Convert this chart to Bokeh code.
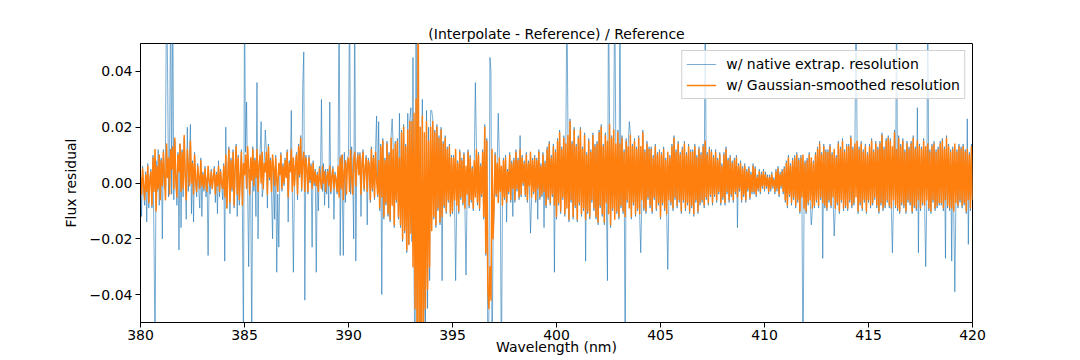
from bokeh.plotting import figure
from bokeh.models import Range1d, FixedTicker, Legend, LegendItem
from bokeh.embed import file_html
from bokeh.resources import INLINE

# ---------------- data ----------------
title_text = "(Interpolate - Reference) / Reference"
x_label = "Wavelength (nm)"
y_label = "Flux residual"
series_names = ["w/ native extrap. resolution", "w/ Gaussian-smoothed resolution"]

xticks = [380, 385, 390, 395, 400, 405, 410, 415, 420]
yticks = [-0.04, -0.02, 0.0, 0.02, 0.04]
ytick_labels = ["\u22120.04", "\u22120.02", "0.00", "0.02", "0.04"]

# residuals, in units of 1e-3,
# sampled every 0.05 nm from 380.00 nm (one row per 0.5 nm)
native_milli = [
    3, -12, 6, -3, -8, 4, -14, 7, -9, 2,            # 380.0
    5, -9, 10, -22, -60, 8, -3, 12, -8, 7,          # 380.5
    9, -20, 12, -2, 10, 70, 42, -5, 13, 70,         # 381.0
    -4, 70, -6, 15, 2, -8, 11, -24, 14, -16,        # 381.5
    12, -5, 16, 2, -13, 20, -3, 9, 21, -11,         # 382.0
    8, -14, 11, 0, -5, 7, -2, -9, 9, -12,           # 382.5
    4, -3, 6, -5, 2, -26, 1, -4, 5, -2,             # 383.0
    3, 6, -7, 4, -11, 8, -5, 5, -1, -6,             # 383.5
    7, -28, 20, -9, 4, 13, -11, 9, -3, 12,          # 384.0
    -9, 6, 14, -12, 10, -8, 3, 12, -10, -60,        # 384.5
    70, 11, 29, -2, -30, 5, -4, -60, 13, -3,        # 385.0
    9, -12, 36, -20, 7, 11, 22, -5, -2, 8,          # 385.5
    19, 12, -9, 14, 1, 9, -4, -20, 6, -13,          # 386.0
    10, -32, -4, -23, 3, 11, -3, 7, -1, 9,          # 386.5
    2, 12, -14, 8, 4, 26, -4, -32, -2, 7,           # 387.0
    11, -6, 14, 2, 17, -3, 35, 47, -42, 10,         # 387.5
    6, -4, 10, 0, 7, -23, 8, -1, 5, -32,            # 388.0
    4, -10, 6, 1, 30, -3, 7, -8, 5, -4,             # 388.5
    5, -9, 29, -4, 3, 6, -13, 4, 2, -4,             # 389.0
    7, 70, -26, 10, -3, -26, 11, -7, 5, 9,          # 389.5
    10, 70, -4, 13, 3, -20, 70, -28, 7, 11,         # 390.0
    4, 11, -12, 8, 12, -3, 6, 10, -15, 9,           # 390.5
    7, -7, 13, -3, 10, -6, 12, 24, -5, 22,          # 391.0
    -10, 14, -40, 16, -13, 9, -8, 15, -12, 11,      # 391.5
    -14, 17, 23, 13, -16, 15, -7, 16, -13, 25,      # 392.0
    -16, 19, -21, 21, -18, 14, -25, 25, -22, 23,    # 392.5
    27, -21, 45, -33, -70, 70, -70, 70, -70, -40,   # 393.0
    -70, 30, -70, -31, -50, 26, -45, 20, -35, 26,   # 393.5
    26, 23, -13, 19, -16, 21, -10, 17, -15, 20,     # 394.0
    -35, 15, -9, 17, -11, 13, -7, 14, -12, 10,      # 394.5
    -11, 10, -7, -35, -9, 8, -11, 12, -6, 9,        # 395.0
    -8, 11, -10, -33, -5, 12, -9, 10, -7, 6,        # 395.5
    -10, 9, 36, 13, -8, 11, -10, 7, -5, 12,         # 396.0
    -13, 21, -26, 16, -70, -46, 45, 40, -70, -21,   # 396.5
    -9, 11, -5, 8, 25, 10, -4, -70, -9, 9,          # 397.0
    -6, 10, -14, 5, -4, 11, -7, 8, -12, 9,          # 397.5
    -7, 12, -3, 9, -6, 17, -5, 10, -1, 8,           # 398.0
    -5, 11, -7, 8, -2, -18, -6, 9, -4, 10,          # 398.5
    -7, 9, -13, 12, -6, 7, -5, 11, -16, 8,          # 399.0
    -9, 13, -6, 15, -8, 10, -5, 14, -32, 12,        # 399.5
    -13, 16, -8, 19, -11, 13, -6, 17, -12, 15,      # 400.0
    70, 18, -14, 23, -7, 15, -13, 20, -9, 14,       # 400.5
    -14, 17, -8, 20, -12, 13, -10, 18, -28, 11,     # 401.0
    -11, 16, -13, 12, -7, 18, -10, 14, -13, 15,     # 401.5
    -15, 19, -9, 21, -12, 14, -15, 18, -8, -35,     # 402.0
    70, 22, -16, 17, -10, 20, 70, 15, -11, 19,      # 402.5
    -13, 70, -9, 17, -11, 12, -70, 16, -7, 14,      # 403.0
    22, 18, -13, 14, -8, 16, -12, 13, -10, 17,      # 403.5
    -12, -25, -7, 19, -10, 12, -11, 15, -6, 13,     # 404.0
    -9, 13, -11, 10, -6, 14, -10, 11, -8, 12,       # 404.5
    -13, 11, -8, 13, -10, 9, -12, -31, -7, 10,      # 405.0
    -8, 14, -10, 17, -6, 12, -9, 15, -7, 11,        # 405.5
    -11, 13, -7, 15, -10, 11, -8, 14, -11, 12,      # 406.0
    -9, 12, -12, 14, -7, 10, -11, 13, -8, 11,       # 406.5
    -7, 14, -9, 70, -6, 11, -8, 13, -5, 12,         # 407.0
    -8, 10, -5, 12, -7, 9, -4, 11, -8, 7,           # 407.5
    -6, 11, -8, 13, -4, 9, -7, 10, -5, 8,           # 408.0
    -7, 9, -4, 10, -16, 7, -3, 8, -7, 6,            # 408.5
    -5, 7, -7, 5, -3, 6, -6, 4, -4, 7,              # 409.0
    -4, 6, -5, 3, -3, 5, -4, 4, -2, 5,              # 409.5
    -3, 4, -2, 3, -4, 3, -3, 4, -2, 2,              # 410.0
    -4, 5, -3, 6, -5, 4, -2, 5, -4, 6,              # 410.5
    -7, 8, -9, 10, -5, 7, -8, 9, -6, 10,            # 411.0
    -9, 11, -7, 9, -11, 10, -6, -70, -10, 8,        # 411.5
    -11, 9, -8, 11, -7, -15, -10, 8, -9, 11,        # 412.0
    -7, 13, -9, 15, -6, 11, -27, 14, -9, 12,        # 412.5
    -10, 12, -7, 14, -9, 11, -6, -19, -10, 10,      # 413.0
    -8, 15, -11, 13, -7, 16, -10, 12, -9, 14,       # 413.5
    -10, 14, -7, 17, -9, 13, -8, 15, 70, 16,        # 414.0
    -11, 13, -8, 15, -10, 12, -7, 14, -11, 11,      # 414.5
    -7, 14, -9, 16, -8, 12, -6, 15, -9, 13,         # 415.0
    -11, 15, -8, 18, -10, 13, -9, 16, -7, 17,       # 415.5
    -9, 16, -10, -25, -7, 19, -9, 70, -10, 17,      # 416.0
    -11, 14, -8, 16, -9, 12, -11, 15, -7, 13,       # 416.5
    -8, 15, -11, 17, -9, 13, -10, 27, -25, 14,      # 417.0
    -10, 13, -8, 16, -9, -30, -7, 70, -10, 12,      # 417.5
    -11, 14, -7, 15, -10, 12, -9, 13, -8, 15,       # 418.0
    -8, 16, -10, 13, -27, 17, -9, 14, -10, 12,      # 418.5
    -28, 13, -11, -39, -8, 12, -9, 14, -7, 13,      # 419.0
    -9, 14, -8, 12, -11, 23, -22, 11, -10, 14,      # 419.5
    -6,                                             # 420.0
]

smoothed_milli = [
    2, -4, 5, -1, -6, 3, -3, 6, -7, 1,              # 380.0
    4, -8, 9, -3, 12, -10, 6, -2, 10, -6,           # 380.5
    8, -1, 11, 3, -6, 14, 2, 9, -4, 12,             # 381.0
    5, 13, -2, 16, 1, -5, 10, 4, 14, -3,            # 381.5
    11, -2, 17, 3, -6, 12, 6, -1, 15, 0,            # 382.0
    7, -4, 10, 1, -3, 6, 2, -2, 8, -1,              # 382.5
    3, -2, 5, 0, -3, 6, 1, -1, 4, -2,               # 383.0
    2, 5, -4, 3, -1, 6, -3, 4, 0, -2,               # 383.5
    6, -5, 10, -9, 3, 12, -7, 8, -2, 11,            # 384.0
    -8, 5, 13, -4, 9, -6, 2, 11, -8, 7,             # 384.5
    3, 10, -2, 13, 5, -4, 9, 1, 12, -1,             # 385.0
    8, 2, 12, -3, 6, 10, 0, 11, -2, 7,              # 385.5
    4, 11, -4, 13, 2, 8, -3, 10, 5, -1,             # 386.0
    9, 1, -3, 7, 3, 10, -2, 6, 0, 8,                # 386.5
    2, 11, -5, 7, 4, 12, -3, 9, -1, 6,              # 387.0
    10, -4, 13, 3, 16, -2, 8, 11, -3, 9,            # 387.5
    5, -3, 9, 1, 6, -2, 7, 0, 4, -1,                # 388.0
    3, -3, 5, 1, -2, 6, 0, 4, -3, 2,                # 388.5
    4, -1, 6, -3, 2, 5, -2, 3, 1, -3,               # 389.0
    6, -5, 9, -2, 10, -6, 4, 8, -4, 7,              # 389.5
    9, -3, 12, 2, -4, 8, 11, -1, 6, 10,             # 390.0
    3, 10, -4, 7, 11, -2, 5, 9, -3, 8,              # 390.5
    6, -6, 12, -2, 9, -5, 11, 1, -4, 8,             # 391.0
    -9, 13, -5, 15, -12, 8, -7, 14, -11, 10,        # 391.5
    -13, 16, -8, 12, -15, 14, -6, 15, -12, 9,       # 392.0
    -15, 18, -20, 20, -17, 13, -24, 19, -22, 22,    # 392.5
    -18, 22, -30, 25, -45, 30, -60, 70, -70, 20,    # 393.0
    -65, 24, -55, 18, -45, 22, -38, 15, -30, 20,    # 393.5
    -17, 22, -12, 18, -15, 20, -9, 16, -14, 19,     # 394.0
    -12, 14, -8, 16, -10, 12, -6, 13, -11, 9,       # 394.5
    -10, 9, -6, 12, -8, 7, -10, 11, -5, 8,          # 395.0
    -7, 10, -9, 6, -4, 11, -8, 9, -6, 5,            # 395.5
    -9, 8, -5, 12, -7, 10, -9, 6, -4, 11,           # 396.0
    -12, 20, -25, 15, -38, -45, -30, -42, 12, -20,  # 396.5
    -8, 10, -4, 7, -7, 9, -3, 6, -8, 8,             # 397.0
    -5, 9, -7, 4, -3, 10, -6, 7, -2, 8,             # 397.5
    -6, 11, -2, 8, -5, 12, -4, 9, 0, 7,             # 398.0
    -4, 10, -6, 7, -1, 11, -5, 8, -3, 9,            # 398.5
    -6, 8, -2, 11, -5, 6, -4, 10, -3, 7,            # 399.0
    -8, 12, -5, 14, -7, 9, -4, 13, -8, 11,          # 399.5
    -12, 15, -7, 18, -10, 12, -5, 16, -11, 14,      # 400.0
    -9, 17, -13, 22, -6, 14, -12, 19, -8, 13,       # 400.5
    -13, 16, -7, 19, -11, 12, -9, 17, -13, 10,      # 401.0
    -10, 15, -12, 11, -6, 17, -9, 13, -12, 14,      # 401.5
    -14, 18, -8, 20, -11, 13, -14, 17, -7, 15,      # 402.0
    -11, 21, -15, 16, -9, 19, -13, 14, -10, 18,     # 402.5
    -12, 14, -8, 16, -10, 11, -12, 15, -6, 13,      # 403.0
    -9, 17, -12, 13, -7, 15, -11, 12, -9, 16,       # 403.5
    -11, 13, -6, 18, -9, 11, -10, 14, -5, 12,       # 404.0
    -8, 12, -10, 9, -5, 13, -9, 10, -7, 11,         # 404.5
    -12, 10, -7, 12, -9, 8, -11, 11, -6, 9,         # 405.0
    -7, 13, -9, 16, -5, 11, -8, 14, -6, 10,         # 405.5
    -10, 12, -6, 14, -9, 10, -7, 13, -10, 11,       # 406.0
    -8, 11, -11, 13, -6, 9, -10, 12, -7, 10,        # 406.5
    -6, 13, -8, 15, -5, 10, -7, 12, -4, 11,         # 407.0
    -7, 9, -4, 11, -6, 8, -3, 10, -7, 6,            # 407.5
    -5, 10, -7, 12, -3, 8, -6, 9, -4, 7,            # 408.0
    -6, 8, -3, 9, -5, 6, -2, 7, -6, 5,              # 408.5
    -4, 6, -6, 4, -2, 5, -5, 3, -3, 6,              # 409.0
    -3, 5, -4, 2, -2, 4, -3, 3, -1, 4,              # 409.5
    -2, 3, -1, 2, -3, 2, -2, 3, -1, 1,              # 410.0
    -3, 4, -2, 5, -4, 3, -1, 4, -3, 5,              # 410.5
    -6, 7, -8, 9, -4, 6, -7, 8, -5, 9,              # 411.0
    -8, 10, -6, 8, -10, 9, -5, 10, -9, 7,           # 411.5
    -10, 8, -7, 10, -6, 9, -9, 7, -8, 10,           # 412.0
    -6, 12, -8, 14, -5, 10, -7, 13, -8, 11,         # 412.5
    -9, 11, -6, 13, -8, 10, -5, 12, -9, 9,          # 413.0
    -7, 14, -10, 12, -6, 15, -9, 11, -8, 13,        # 413.5
    -9, 13, -6, 16, -8, 12, -7, 14, -5, 15,         # 414.0
    -10, 12, -7, 14, -9, 11, -6, 13, -10, 10,       # 414.5
    -6, 13, -8, 15, -7, 11, -5, 14, -8, 12,         # 415.0
    -10, 14, -7, 17, -9, 12, -8, 15, -6, 16,        # 415.5
    -8, 15, -9, 13, -6, 18, -8, 12, -9, 16,         # 416.0
    -10, 13, -7, 15, -8, 11, -10, 14, -6, 12,       # 416.5
    -7, 14, -10, 16, -8, 12, -9, 15, -6, 13,        # 417.0
    -9, 12, -7, 15, -8, 13, -6, 14, -9, 11,         # 417.5
    -10, 13, -6, 14, -9, 11, -8, 12, -7, 14,        # 418.0
    -7, 15, -9, 12, -6, 16, -8, 13, -9, 11,         # 418.5
    -9, 12, -10, 14, -7, 11, -8, 13, -6, 12,        # 419.0
    -8, 13, -7, 11, -10, 12, -6, 10, -9, 13,        # 419.5
    -6,                                             # 420.0
]

wl_start, wl_step = 380.0, 0.05   # sampling of the residual arrays (nm)
wl_native = [round(wl_start + wl_step * i, 2) for i in range(len(native_milli))]
wl_smoothed = [round(wl_start + wl_step * i, 2) for i in range(len(smoothed_milli))]
resid_native = [v / 1000.0 for v in native_milli]
resid_smoothed = [v / 1000.0 for v in smoothed_milli]

# ---------------- figure ----------------
FONT = "DejaVu Sans"

p = figure(width=1080, height=360,
           x_range=Range1d(380, 420), y_range=Range1d(-0.05, 0.05),
           output_backend="svg", toolbar_location=None,
           min_border_left=140, min_border_right=108,
           min_border_top=43, min_border_bottom=38,
           title=title_text)
p.background_fill_color = "white"
p.border_fill_color = "white"
p.grid.visible = False
p.outline_line_color = "black"
p.outline_line_alpha = 1.0
p.outline_line_width = 1

r_native = p.line(wl_native, resid_native, line_color="#1f77b4",
                  line_alpha=0.6, line_width=1, line_join="round")
r_smooth = p.line(wl_smoothed, resid_smoothed, line_color="#ff7f0e",
                  line_alpha=1.0, line_width=1.5, line_join="round")

p.title.text_font = FONT
p.title.text_font_size = "14px"
p.title.text_font_style = "normal"
p.title.text_color = "black"
p.title.align = "center"
p.title.standoff = 3

p.xaxis.ticker = FixedTicker(ticks=xticks)
p.yaxis.ticker = FixedTicker(ticks=yticks)
p.yaxis.major_label_overrides = {t: s for t, s in zip(yticks, ytick_labels)}

for ax in (p.xaxis[0], p.yaxis[0]):
    ax.axis_line_color = "black"
    ax.major_tick_line_color = "black"
    ax.major_tick_in = 0
    ax.major_tick_out = 5
    ax.minor_tick_line_color = None
    ax.major_label_text_font = FONT
    ax.major_label_text_font_size = "14px"
    ax.major_label_text_color = "black"
    ax.axis_label_text_font = FONT
    ax.axis_label_text_font_size = "14px"
    ax.axis_label_text_font_style = "normal"
    ax.axis_label_text_color = "black"

p.xaxis.axis_label = x_label
p.xaxis.major_label_standoff = 2
p.xaxis.axis_label_standoff = -4
p.yaxis.axis_label = y_label
p.yaxis.major_label_standoff = 3
p.yaxis.axis_label_standoff = 8

legend = Legend(items=[LegendItem(label=series_names[0], renderers=[r_native]),
                       LegendItem(label=series_names[1], renderers=[r_smooth])],
                location="top_right")
legend.margin = 7
legend.padding = 4
legend.spacing = 3
legend.glyph_width = 30
legend.glyph_height = 18
legend.label_height = 18
legend.label_standoff = 10
legend.label_text_font = FONT
legend.label_text_font_size = "14px"
legend.label_text_color = "black"
legend.border_line_color = "#cccccc"
legend.border_line_alpha = 0.9
legend.background_fill_color = "white"
legend.background_fill_alpha = 0.8
p.add_layout(legend)

open("out.html", "w").write(file_html(p, INLINE))
